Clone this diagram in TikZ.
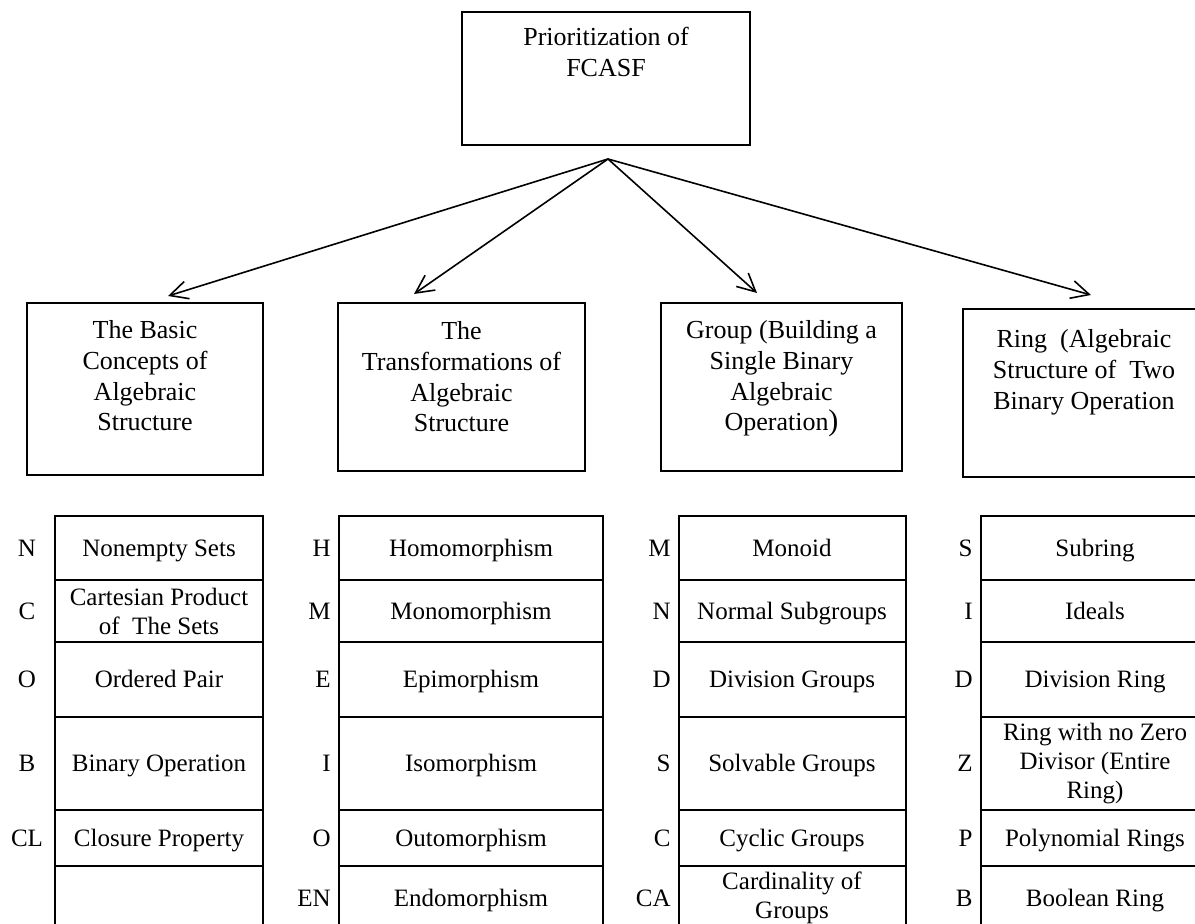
\documentclass[tikz,border=0pt]{standalone}
\usepackage{fontspec}
\setmainfont{Liberation Serif}
\usetikzlibrary{arrows.meta,positioning}

\tikzset{
	boxline/.style={draw, line width=1pt, inner sep=0pt},
	boxtext/.style={align=center, inner sep=0pt, font=\fontsize{13}{15.4}\selectfont},
	cell/.style={inner sep=0pt, text height=8.3pt, text depth=0pt, font=\fontsize{12.5}{14.5}\selectfont},
	multicell/.style={align=center, inner sep=0pt, font=\fontsize{12.5}{14.5}\selectfont},
	tag/.style={inner sep=0pt, font=\fontsize{12.5}{14.5}\selectfont},
	tableline/.style={line width=1pt},
	link/.style={line width=0.8pt, -{Straight Barb[length=9pt,width=9pt]}}
}

\begin{document}
\begin{tikzpicture}[x=0.5pt,y=-0.5pt]
	\useasboundingbox (0,0) rectangle (1195,924);
	\clip (0,0) rectangle (1195,924);

	\node[boxline, minimum width=144pt, minimum height=66.5pt] (title) at (606,78.5) {};
	\node[boxtext, below=8pt of title.north] (titletext) {Prioritization of\\FCASF};

	\node[boxline, minimum width=118pt, minimum height=86pt] (basic) at (145,389) {};
	\node[boxline, minimum width=123.5pt, minimum height=84pt] (transf) at (461.5,387) {};
	\node[boxline, minimum width=120.5pt, minimum height=84pt] (group) at (781.5,387) {};
	\node[boxline, minimum width=121pt, minimum height=84pt] (ring) at (1084,393) {};
	\node[boxtext, below=9pt of basic.north] (basictext) {The Basic\\Concepts of\\Algebraic\\Structure};
	\node[boxtext, below=9.5pt of transf.north] (transftext) {The\\Transformations of\\Algebraic\\Structure};
	\node[boxtext, below=9pt of group.north] (grouptext) {Group (Building a\\Single Binary\\Algebraic\\Operation{\fontsize{15}{15}\selectfont)}};
	\node[boxtext, below=10.5pt of ring.north] (ringtext) {Ring\ \ (Algebraic\\Structure of\ \ Two\\Binary Operation};

	\coordinate (apex) at (608,159);
	\coordinate (basictip) at (168,296);
	\coordinate (transftip) at (414,294);
	\coordinate (grouptip) at (757,293);
	\coordinate (ringtip) at (1091,295);
	\draw[link] (apex) -- (basictip);
	\draw[link] (apex) -- (transftip);
	\draw[link] (apex) -- (grouptip);
	\draw[link] (apex) -- (ringtip);

	\draw[tableline] (55,516) rectangle (263,930);
	\draw[tableline] (339,516) rectangle (603,930);
	\draw[tableline] (679,516) rectangle (906,930);
	\draw[tableline] (981,516) rectangle (1209,930);
	\draw[tableline] (55,580) -- (263,580);
	\draw[tableline] (55,642) -- (263,642);
	\draw[tableline] (55,717) -- (263,717);
	\draw[tableline] (55,810) -- (263,810);
	\draw[tableline] (55,866) -- (263,866);
	\draw[tableline] (339,580) -- (603,580);
	\draw[tableline] (339,642) -- (603,642);
	\draw[tableline] (339,717) -- (603,717);
	\draw[tableline] (339,810) -- (603,810);
	\draw[tableline] (339,866) -- (603,866);
	\draw[tableline] (679,580) -- (906,580);
	\draw[tableline] (679,642) -- (906,642);
	\draw[tableline] (679,717) -- (906,717);
	\draw[tableline] (679,810) -- (906,810);
	\draw[tableline] (679,866) -- (906,866);
	\draw[tableline] (981,580) -- (1209,580);
	\draw[tableline] (981,642) -- (1209,642);
	\draw[tableline] (981,717) -- (1209,717);
	\draw[tableline] (981,810) -- (1209,810);
	\draw[tableline] (981,866) -- (1209,866);

	\node[cell] (nonempty) at (159,548) {Nonempty Sets};
	\node[multicell] (cartesian) at (159,611) {Cartesian Product\\of\ \ The Sets};
	\node[cell] (ordered) at (159,679.5) {Ordered Pair};
	\node[cell] (binary) at (159,763.5) {Binary Operation};
	\node[cell] (closure) at (159,838) {Closure Property};
	\node[tag] (nonemptytag) at (27,548) {N};
	\node[tag] (cartesiantag) at (27,611) {C};
	\node[tag] (orderedtag) at (27,679.5) {O};
	\node[tag] (binarytag) at (27,763.5) {B};
	\node[tag] (closuretag) at (27,838) {CL};

	\node[cell] (homo) at (471,548) {Homomorphism};
	\node[cell] (mono) at (471,611) {Monomorphism};
	\node[cell] (epi) at (471,679.5) {Epimorphism};
	\node[cell] (iso) at (471,763.5) {Isomorphism};
	\node[cell] (outo) at (471,838) {Outomorphism};
	\node[cell] (endo) at (471,898) {Endomorphism};
	\node[tag, anchor=east] (homotag) at (331,548) {H};
	\node[tag, anchor=east] (monotag) at (331,611) {M};
	\node[tag, anchor=east] (epitag) at (331,679.5) {E};
	\node[tag, anchor=east] (isotag) at (331,763.5) {I};
	\node[tag, anchor=east] (outotag) at (331,838) {O};
	\node[tag, anchor=east] (endotag) at (331,898) {EN};

	\node[cell] (monoid) at (792,548) {Monoid};
	\node[cell] (normal) at (792,611) {Normal Subgroups};
	\node[cell] (divgroup) at (792,679.5) {Division Groups};
	\node[cell] (solvable) at (792,763.5) {Solvable Groups};
	\node[cell] (cyclic) at (792,838) {Cyclic Groups};
	\node[multicell] (cardinal) at (792,898) {Cardinality of\\Groups};
	\node[tag, anchor=east] (monoidtag) at (671,548) {M};
	\node[tag, anchor=east] (normaltag) at (671,611) {N};
	\node[tag, anchor=east] (divgrouptag) at (671,679.5) {D};
	\node[tag, anchor=east] (solvabletag) at (671,763.5) {S};
	\node[tag, anchor=east] (cyclictag) at (671,838) {C};
	\node[tag, anchor=east] (cardinaltag) at (671,898) {CA};

	\node[cell] (subring) at (1095,548) {Subring};
	\node[cell] (ideals) at (1095,611) {Ideals};
	\node[cell] (divring) at (1095,679.5) {Division Ring};
	\node[multicell] (entire) at (1095,763.5) {Ring with no Zero\\Divisor (Entire\\Ring)};
	\node[cell] (polyring) at (1095,838) {Polynomial Rings};
	\node[cell] (boolring) at (1095,898) {Boolean Ring};
	\node[tag, anchor=east] (subringtag) at (973,548) {S};
	\node[tag, anchor=east] (idealstag) at (973,611) {I};
	\node[tag, anchor=east] (divringtag) at (973,679.5) {D};
	\node[tag, anchor=east] (entiretag) at (973,763.5) {Z};
	\node[tag, anchor=east] (polyringtag) at (973,838) {P};
	\node[tag, anchor=east] (boolringtag) at (973,898) {B};
\end{tikzpicture}
\end{document}
